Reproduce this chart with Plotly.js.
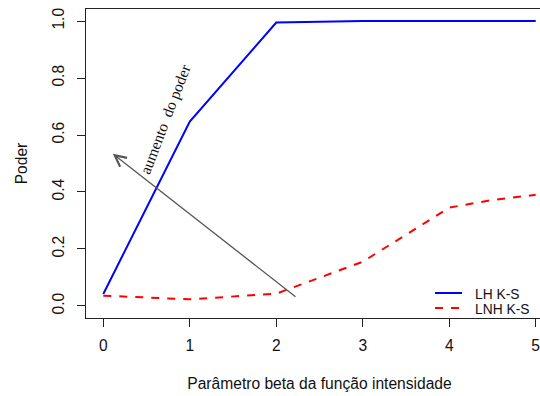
<!DOCTYPE html>
<html>
<head>
<meta charset="utf-8">
<script src="https://cdn.plot.ly/plotly-3.0.1.min.js"></script>
<style>
html,body{margin:0;padding:0;overflow:hidden;background:#fff;}
#chart{width:560px;height:396px;}
</style>
</head>
<body>
<div id="chart"></div>
<script>
// Data
const beta = [0, 1, 2, 2.5, 3, 3.5, 4, 4.5, 5];
const powerLH = [0.042, 0.647, 0.995, 0.998, 1.0, 1.0, 1.0, 1.0, 1.0];
const powerLNH = [0.036, 0.023, 0.043, 0.099, 0.155, 0.25, 0.345, 0.372, 0.39];
const seriesNames = ["LH K-S", "LNH K-S"];
const xTicks = [0, 1, 2, 3, 4, 5];
const yTicks = [0.0, 0.2, 0.4, 0.6, 0.8, 1.0];
const yTickText = ["0.0", "0.2", "0.4", "0.6", "0.8", "1.0"];
// arrow annotation (data coords): tail -> head
const arrowTail = [2.24, 0.028];
const arrowHead = [0.11, 0.534];
const arrowLabel = "aumento\u00a0\u00a0do poder";
const arrowLabelPos = [0.72, 0.657];

const axisFont = {family: "Liberation Sans, Arial, sans-serif", size: 15.6, color: "#111"};

const traces = [
  {x: beta, y: powerLH, name: seriesNames[0], mode: "lines",
   line: {color: "#0000ff", width: 2}, showlegend: false},
  {x: beta, y: powerLNH, name: seriesNames[1], mode: "lines",
   line: {color: "#ff0000", width: 2, dash: "8px,8px"}, showlegend: false}
];

const layout = {
  width: 560, height: 396,
  margin: {l: 86, r: 7, t: 9, b: 78},
  paper_bgcolor: "#fff", plot_bgcolor: "#fff",
  xaxis: {
    range: [-0.2, 5.2], tickvals: xTicks, ticktext: xTicks.map(String),
    showgrid: false, zeroline: false, showline: true, mirror: true,
    linecolor: "#222", linewidth: 1, ticks: "outside", ticklen: 8, tickcolor: "#222",
    tickfont: axisFont, ticklabelstandoff: 5,
    title: {text: "Parâmetro beta da função intensidade", font: axisFont, standoff: 25},
    fixedrange: true
  },
  yaxis: {
    range: [-0.0425, 1.0425], tickvals: yTicks, ticktext: yTickText,
    showgrid: false, zeroline: false, showline: true, mirror: true,
    linecolor: "#222", linewidth: 1, ticks: "outside", ticklen: 8, tickcolor: "#222",
    tickfont: axisFont, tickangle: -90, ticklabelstandoff: 7,
    title: {text: "Poder", font: axisFont, standoff: 18},
    fixedrange: true
  },
  annotations: [
    {x: arrowHead[0], y: arrowHead[1], ax: arrowTail[0], ay: arrowTail[1],
     xref: "x", yref: "y", axref: "x", ayref: "y",
     showarrow: true, arrowhead: 5, arrowsize: 1.7, arrowwidth: 1.3, arrowcolor: "#555",
     text: ""},
    {x: arrowLabelPos[0], y: arrowLabelPos[1], xref: "x", yref: "y", showarrow: false,
     text: arrowLabel, textangle: -69,
     font: {family: "Liberation Serif, Times New Roman, serif", size: 15.5, color: "#111"}}
  ],
  shapes: []
};

// manual compact legend (R style), positioned in pixel terms converted to paper coords
const plotW = 560 - 86 - 7, plotH = 396 - 9 - 78;
function px(xp){ return (xp - 86) / plotW; }
function py(yp){ return 1 - (yp - 9) / plotH; }
const legendRows = [
  {y: 293, color: "#0000ff", dash: "solid", text: seriesNames[0]},
  {y: 308, color: "#ff0000", dash: "8px,8px", text: seriesNames[1]}
];
legendRows.forEach(r => {
  layout.shapes.push({type: "line", xref: "paper", yref: "paper",
    x0: px(435), x1: px(462), y0: py(r.y), y1: py(r.y),
    line: {color: r.color, width: 2, dash: r.dash}});
  layout.annotations.push({x: px(473), y: py(r.y + 1), xref: "paper", yref: "paper",
    xanchor: "left", yanchor: "middle", showarrow: false, text: r.text,
    font: {family: "Liberation Sans, Arial, sans-serif", size: 13.8, color: "#111"}});
});

Plotly.newPlot("chart", traces, layout, {displayModeBar: false, staticPlot: true});
</script>
</body>
</html>
